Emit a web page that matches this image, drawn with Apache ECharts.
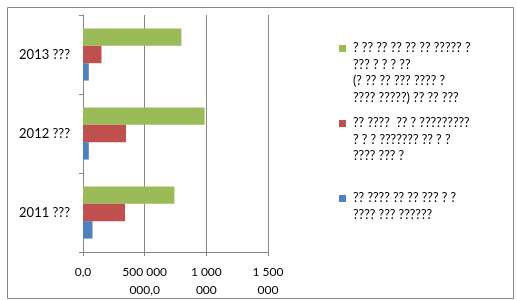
<!DOCTYPE html>
<html>
<head>
<meta charset="utf-8">
<script src="https://cdn.jsdelivr.net/npm/echarts@6/dist/echarts.min.js"></script>
<style>html,body{margin:0;padding:0;background:#fff;}#c{width:517px;height:300px;}</style>
</head>
<body>
<div id="c"></div>
<script>
const categories = ['2011 ???', '2012 ???', '2013 ???'];
const blueValues = [77e6, 47e6, 47e6];
const redValues = [341e6, 349e6, 150e6];
const greenValues = [741e6, 986e6, 798e6];
const xTickLabels = ['0,0', '500 000\n000,0', '1 000\n000', '1 500\n000'];
const blueName = '?? ???? ?? ?? ??? ? ?\n???? ??? ??????';
const redName = '?? ????  ?? ? ?????????\n? ? ? ??????? ?? ? ?\n???? ??? ?';
const greenName = '? ?? ?? ?? ?? ?? ????? ?\n??? ? ? ? ??\n(? ?? ?? ??? ???? ?\n???? ?????) ?? ?? ???';

const colors = {blue: '#4F81BD', red: '#C0504D', green: '#9BBB59'};
const gray = '#868686';
const font = 'Lato, "Open Sans", sans-serif';

const chart = echarts.init(document.getElementById('c'), null, {renderer: 'canvas'});

const legendItems = [
  {name: greenName, color: colors.green, top: 45},
  {name: redName, color: colors.red, top: 120},
  {name: blueName, color: colors.blue, top: 195}
];
const graphics = [{
  type: 'rect', left: 5, top: 5, silent: true,
  shape: {x: 0, y: 0, width: 506, height: 291},
  style: {fill: 'none', stroke: gray, lineWidth: 1}
}];
legendItems.forEach(it => {
  graphics.push({type: 'rect', left: 339, top: it.top, shape: {width: 7, height: 7}, style: {fill: it.color}});
  graphics.push({type: 'text', left: 353, top: it.top - 5, style: {text: it.name, font: '12.5px ' + font, fill: '#000', lineHeight: 16.5}});
});

chart.setOption({
  animation: false,
  backgroundColor: '#fff',
  grid: {left: 83, right: 249, top: 15, bottom: 48, containLabel: false},
  xAxis: {
    type: 'value', min: 0, max: 1500e6, interval: 500e6,
    axisLine: {show: true, lineStyle: {color: gray}},
    axisTick: {show: true, length: 4, lineStyle: {color: gray}},
    splitLine: {show: true, lineStyle: {color: gray, width: 1}},
    axisLabel: {
      margin: 11, color: '#000', fontFamily: font, fontSize: 12, lineHeight: 18,
      formatter: v => xTickLabels[Math.round(v / 500e6)]
    }
  },
  yAxis: {
    type: 'category', data: categories,
    axisLine: {show: true, lineStyle: {color: gray}},
    axisTick: {show: true, length: 4, lineStyle: {color: gray}},
    axisLabel: {margin: 13, color: '#000', fontFamily: font, fontSize: 13}
  },
  series: [
    {type: 'bar', name: 'green', data: greenValues, itemStyle: {color: colors.green}, barGap: '0%', barCategoryGap: '34%'},
    {type: 'bar', name: 'red', data: redValues, itemStyle: {color: colors.red}, barGap: '0%', barCategoryGap: '34%'},
    {type: 'bar', name: 'blue', data: blueValues, itemStyle: {color: colors.blue}, barGap: '0%', barCategoryGap: '34%'}
  ],
  graphic: graphics
});
</script>
</body>
</html>
